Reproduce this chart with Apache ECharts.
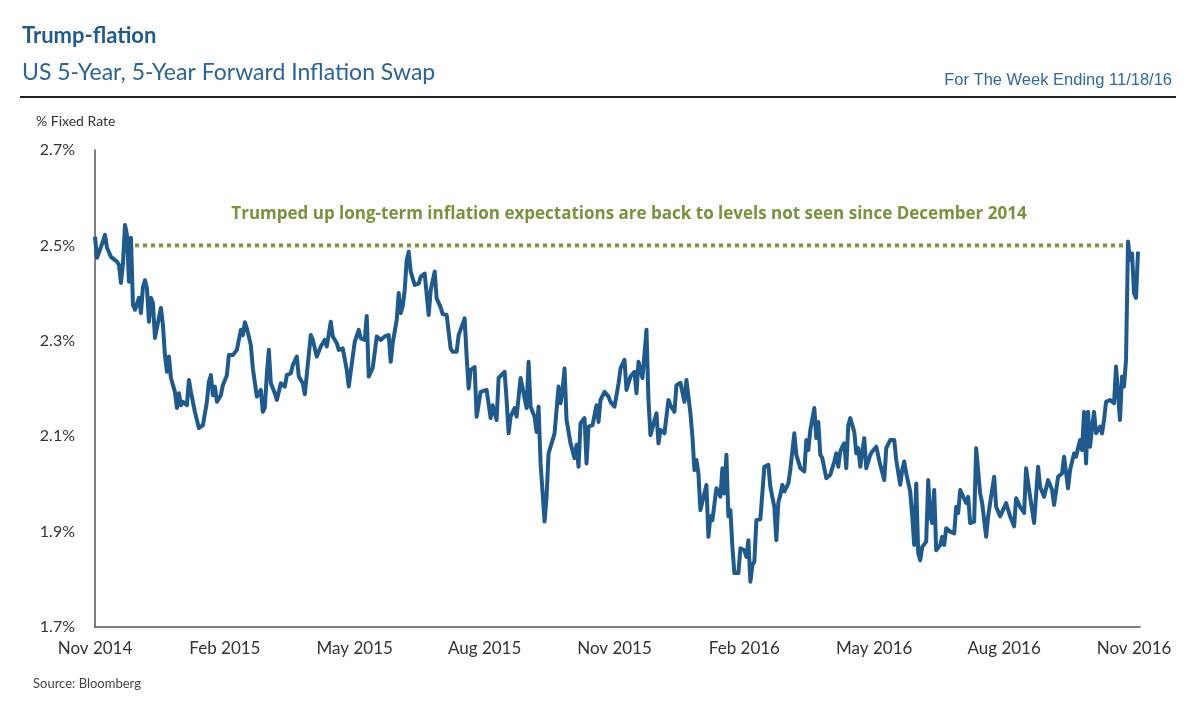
<!DOCTYPE html>
<html>
<head>
<meta charset="utf-8">
<script src="https://cdn.jsdelivr.net/npm/echarts@6/dist/echarts.min.js"></script>
<style>
  html, body { margin: 0; padding: 0; background: #fff; }
  #main { width: 1200px; height: 710px; }
</style>
</head>
<body>
<div id="main"></div>
<script>
// trading day number since the start of the series
var tradeDay = [
	0, 1, 3, 5, 6, 8, 11, 12, 13, 14, 15, 16,
	17, 18, 19, 20, 21, 22, 23, 24, 25, 26, 27, 28,
	29, 30, 31, 33, 34, 35, 36, 37, 38, 40, 41, 42,
	43, 44, 46, 47, 48, 50, 52, 54, 56, 57, 58, 59,
	60, 61, 63, 64, 66, 67, 69, 71, 73, 74, 75, 76,
	78, 79, 81, 83, 84, 85, 86, 87, 88, 90, 91, 93,
	95, 96, 98, 99, 101, 102, 104, 105, 108, 109, 111, 113,
	115, 116, 118, 119, 121, 122, 124, 126, 127, 129, 130, 132,
	133, 135, 136, 137, 139, 141, 143, 145, 147, 148, 149, 151,
	152, 153, 154, 155, 156, 157, 158, 160, 162, 163, 165, 167,
	168, 170, 171, 173, 174, 176, 178, 179, 181, 182, 183, 185,
	186, 187, 188, 190, 191, 193, 194, 196, 198, 199, 201, 202,
	205, 206, 207, 208, 210, 211, 213, 214, 216, 217, 218, 220,
	221, 222, 223, 225, 226, 227, 228, 230, 232, 233, 234, 235,
	236, 238, 240, 241, 242, 243, 245, 246, 247, 249, 251, 252,
	253, 255, 257, 258, 260, 262, 263, 265, 266, 268, 269, 270,
	271, 272, 273, 274, 276, 277, 278, 279, 281, 282, 283, 285,
	287, 288, 290, 291, 293, 294, 295, 296, 298, 299, 300, 301,
	302, 303, 304, 306, 307, 308, 309, 310, 311, 313, 314, 315,
	316, 317, 318, 319, 320, 322, 323, 325, 326, 327, 328, 329,
	330, 331, 333, 334, 335, 337, 338, 340, 341, 342, 343, 344,
	345, 347, 348, 350, 351, 353, 355, 356, 357, 358, 360, 361,
	362, 363, 364, 366, 368, 370, 371, 372, 373, 374, 375, 376,
	377, 378, 380, 381, 382, 383, 385, 386, 388, 389, 391, 393,
	395, 396, 398, 400, 401, 403, 404, 405, 406, 408, 409, 410,
	411, 412, 413, 414, 416, 417, 418, 419, 420, 421, 423, 424,
	425, 426, 428, 430, 431, 432, 433, 434, 436, 437, 438, 440,
	441, 443, 444, 446, 447, 448, 450, 451, 453, 454, 456, 458,
	460, 461, 463, 465, 466, 468, 470, 472, 473, 475, 477, 479,
	480, 482, 484, 485, 487, 488, 490, 491, 493, 494, 495, 496,
	497, 498, 499, 500, 501, 503, 504, 505, 506, 508, 510, 511,
	513, 514, 515, 516, 517, 518, 519, 520, 521, 522
];

// % fixed rate, US 5y5y forward inflation swap
var swapRate = [
	2.518, 2.474, 2.497, 2.522, 2.495, 2.476, 2.466, 2.459, 2.421, 2.463, 2.543, 2.522,
	2.424, 2.516, 2.375, 2.365, 2.361, 2.39, 2.358, 2.413, 2.427, 2.41, 2.34, 2.39,
	2.379, 2.306, 2.302, 2.369, 2.333, 2.27, 2.235, 2.267, 2.222, 2.193, 2.159, 2.19,
	2.165, 2.172, 2.165, 2.218, 2.193, 2.151, 2.117, 2.123, 2.172, 2.214, 2.228, 2.186,
	2.204, 2.172, 2.186, 2.207, 2.228, 2.27, 2.27, 2.281, 2.323, 2.312, 2.339, 2.326,
	2.291, 2.242, 2.183, 2.197, 2.151, 2.16, 2.23, 2.281, 2.211, 2.19, 2.176, 2.211,
	2.204, 2.228, 2.232, 2.249, 2.267, 2.225, 2.211, 2.188, 2.312, 2.302, 2.267, 2.288,
	2.302, 2.288, 2.34, 2.309, 2.295, 2.281, 2.284, 2.239, 2.204, 2.267, 2.298, 2.323,
	2.305, 2.302, 2.352, 2.225, 2.243, 2.309, 2.302, 2.309, 2.312, 2.256, 2.295, 2.344,
	2.4, 2.358, 2.372, 2.406, 2.469, 2.487, 2.445, 2.417, 2.42, 2.434, 2.441, 2.354,
	2.406, 2.445, 2.389, 2.37, 2.356, 2.354, 2.284, 2.277, 2.277, 2.312, 2.309, 2.347,
	2.267, 2.2, 2.239, 2.245, 2.141, 2.193, 2.19, 2.197, 2.138, 2.165, 2.134, 2.222,
	2.235, 2.176, 2.106, 2.141, 2.159, 2.141, 2.222, 2.225, 2.159, 2.256, 2.162, 2.141,
	2.109, 2.162, 2.043, 1.921, 1.973, 2.064, 2.068, 2.106, 2.204, 2.169, 2.197, 2.242,
	2.134, 2.085, 2.054, 2.082, 2.036, 2.127, 2.138, 2.043, 2.12, 2.123, 2.165, 2.13,
	2.176, 2.193, 2.183, 2.172, 2.162, 2.21, 2.242, 2.26, 2.197, 2.225, 2.228, 2.235,
	2.19, 2.256, 2.26, 2.222, 2.323, 2.176, 2.102, 2.106, 2.148, 2.085, 2.113, 2.106,
	2.176, 2.165, 2.151, 2.207, 2.212, 2.211, 2.172, 2.218, 2.148, 2.099, 2.029, 2.05,
	2.022, 1.945, 1.963, 1.998, 1.889, 1.932, 1.924, 1.921, 1.991, 1.973, 2.033, 1.98,
	2.061, 1.932, 1.945, 1.868, 1.813, 1.813, 1.865, 1.861, 1.847, 1.882, 1.795, 1.83,
	1.837, 1.924, 1.926, 1.928, 2.036, 2.04, 1.994, 1.952, 1.882, 1.961, 1.977, 1.998,
	1.984, 2.001, 2.03, 2.106, 2.061, 2.033, 2.026, 2.092, 2.071, 2.113, 2.159, 2.096,
	2.13, 2.061, 2.054, 2.012, 2.019, 2.047, 2.064, 2.036, 2.068, 2.078, 2.085, 2.033,
	2.123, 2.138, 2.109, 2.064, 2.075, 2.036, 2.096, 2.033, 2.061, 2.068, 2.078, 2.04,
	2.008, 2.075, 2.092, 2.092, 2.05, 1.998, 2.029, 2.047, 2.022, 1.984, 1.932, 1.872,
	2.001, 1.855, 1.84, 1.868, 1.879, 2.008, 1.932, 1.918, 1.987, 1.861, 1.872, 1.889,
	1.872, 1.907, 1.9, 1.896, 1.952, 1.939, 1.987, 1.984, 1.96, 1.973, 1.918, 1.921,
	2.075, 1.98, 1.96, 1.889, 1.932, 1.96, 2.015, 1.952, 1.932, 1.935, 1.96, 1.932,
	1.911, 1.97, 1.952, 1.939, 2.033, 1.973, 1.918, 2.036, 1.994, 1.973, 2.008, 1.987,
	1.956, 2.015, 2.022, 2.057, 1.991, 2.029, 2.064, 2.057, 2.092, 2.071, 2.151, 2.043,
	2.151, 2.078, 2.117, 2.151, 2.106, 2.12, 2.106, 2.134, 2.172, 2.176, 2.169, 2.246,
	2.134, 2.225, 2.204, 2.26, 2.508, 2.47, 2.483, 2.4, 2.39, 2.487
];

// x axis labels, one every 65 trading days
var tickLabels = ['Nov 2014', 'Feb 2015', 'May 2015', 'Aug 2015', 'Nov 2015',
	'Feb 2016', 'May 2016', 'Aug 2016', 'Nov 2016'];
var tickStep = 65;

// dotted "back to Dec 2014 level" line
var refLevel = 2.5;
var refFrom = 16;
var refTo = 517;

var swapData = tradeDay.map(function (d, i) {
	return [d, swapRate[i]];
});

var chart = echarts.init(document.getElementById('main'));
var sans = 'Lato, "Open Sans", sans-serif';

var option = {
	backgroundColor: '#fff',
	animation: false,
	grid: {
		left: 95,
		right: 60,
		top: 150,
		bottom: 83
	},
	xAxis: {
		type: 'value',
		min: 0,
		max: 523,
		interval: tickStep,
		axisLine: { show: true, lineStyle: { color: '#555', width: 1.5 } },
		axisTick: { show: false },
		splitLine: { show: false },
		axisLabel: {
			margin: 13,
			color: '#333',
			fontSize: 17,
			fontFamily: sans,
			showMaxLabel: false,
			formatter: function (v) {
				var k = v / tickStep;
				return tickLabels[k] || '';
			}
		}
	},
	yAxis: {
		type: 'value',
		min: 1.7,
		max: 2.7,
		interval: 0.2,
		axisLine: { show: true, lineStyle: { color: '#555', width: 1.5 } },
		axisTick: { show: false },
		splitLine: { show: false },
		axisLabel: {
			margin: 20,
			color: '#333',
			fontSize: 16,
			fontFamily: sans,
			formatter: function (v) {
				return v.toFixed(1) + '%';
			}
		}
	},
	series: [
		{
			name: 'ref',
			type: 'line',
			z: 1,
			symbol: 'none',
			silent: true,
			data: [[refFrom, refLevel], [refTo, refLevel]],
			lineStyle: { color: '#7a9a3c', width: 4, type: [4, 4], cap: 'butt' }
		},
		{
			name: '5y5y',
			type: 'line',
			z: 2,
			symbol: 'none',
			data: swapData,
			lineStyle: { color: '#1e5a8e', width: 4, join: 'round' }
		}
	],
	graphic: [
		{
			type: 'text', left: 22, top: 25,
			style: { text: 'Trump-flation', fill: '#1f5b8e', font: 'bold 22px ' + sans }
		},
		{
			type: 'text', left: 22, top: 61,
			style: { text: 'US 5-Year, 5-Year Forward Inflation Swap', fill: '#2a6496', font: '23px ' + sans }
		},
		{
			type: 'text', right: 28, top: 72,
			style: { text: 'For The Week Ending 11/18/16', fill: '#2e6a9c', font: '16.5px Arial, "Liberation Sans", sans-serif' }
		},
		{
			type: 'line',
			shape: { x1: 20, y1: 97, x2: 1176, y2: 97 },
			style: { stroke: '#222', lineWidth: 2 }
		},
		{
			type: 'text', left: 36, top: 114,
			style: { text: '% Fixed Rate', fill: '#333', font: '14px ' + sans }
		},
		{
			type: 'text', x: 629, y: 214,
			style: {
				text: 'Trumped up long-term inflation expectations are back to levels not seen since December 2014',
				fill: '#76943a', font: 'bold 17px "Open Sans", Lato, sans-serif',
				align: 'center', verticalAlign: 'middle'
			}
		},
		{
			type: 'text', left: 33, top: 677,
			style: { text: 'Source: Bloomberg', fill: '#444', font: '13px ' + sans }
		}
	]
};

chart.setOption(option);
</script>
</body>
</html>
